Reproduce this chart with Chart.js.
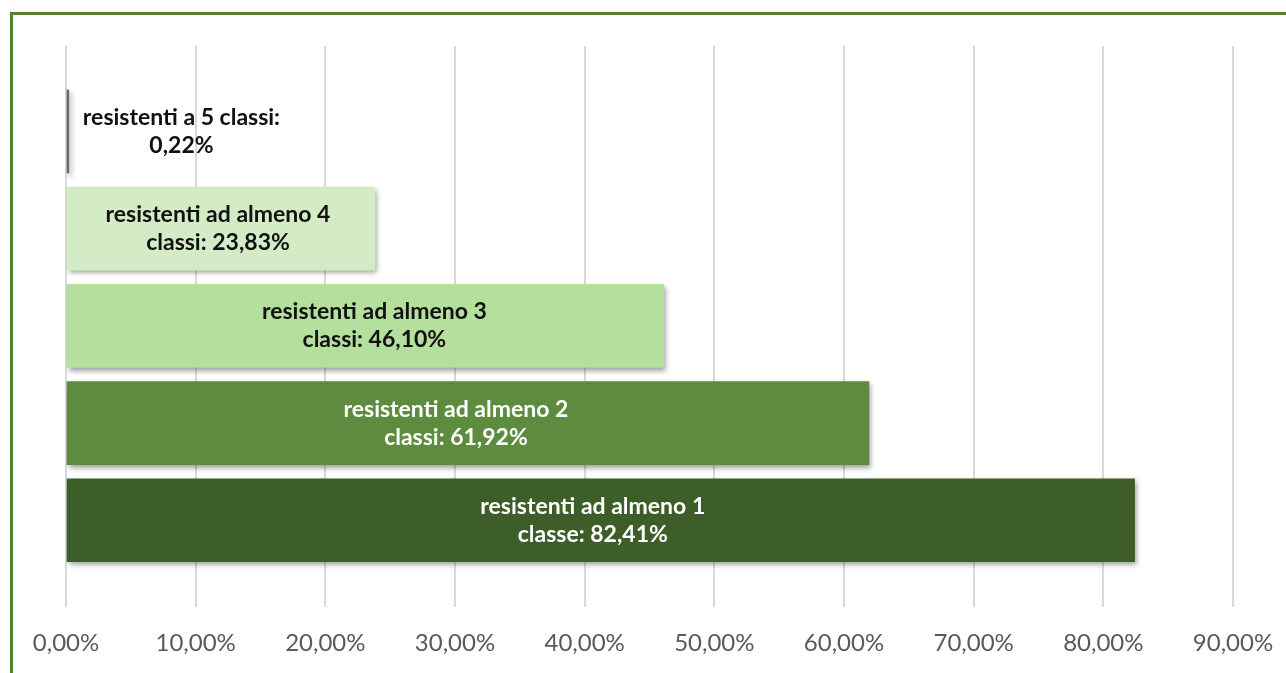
<!DOCTYPE html>
<html>
<head>
<meta charset="utf-8">
<script src="https://cdn.jsdelivr.net/npm/chart.js@4.4.1/dist/chart.umd.min.js"></script>
<style>
  html, body { margin: 0; padding: 0; background: #ffffff; overflow: hidden; }
  #frame { position: absolute; left: 10px; top: 12px; width: 1400px; height: 800px;
           border: 3px solid #548235; box-sizing: border-box; }
  #wrap { position: absolute; left: 0; top: 0; width: 1286px; height: 673px; }
</style>
</head>
<body>
<div id="frame"></div>
<div id="wrap"><canvas id="chart"></canvas></div>
<script>
// Share of isolates resistant to N antibiotic classes (top to bottom)
const categories = [
  'resistenti a 5 classi',
  'resistenti ad almeno 4 classi',
  'resistenti ad almeno 3 classi',
  'resistenti ad almeno 2 classi',
  'resistenti ad almeno 1 classe'
];
const shares = [0.22, 23.83, 46.10, 61.92, 82.41];
const barColors = ['#6a6a6a', '#d3ecc5', '#b4df9c', '#5d8c3e', '#3d5e29'];
const labelColors = ['#111111', '#111111', '#111111', '#ffffff', '#ffffff'];
const axisMin = 0;
const axisMax = 90;
const axisStep = 10;

const fmtPct = v => v.toFixed(2).replace('.', ',') + '%';

// Bars sit at row positions 1..n on a linear index axis
const rows = categories.map((c, i) => ({ x: shares[i], y: i + 1 }));

const LABEL_FONT = 'bold 23px Lato';
const LINE_GAP = 28;

function wrapText(ctx, text, maxWidth) {
  const words = text.split(' ');
  const lines = [];
  let cur = '';
  for (const w of words) {
    const test = cur ? cur + ' ' + w : w;
    if (cur && ctx.measureText(test).width > maxWidth) {
      lines.push(cur);
      cur = w;
    } else {
      cur = test;
    }
  }
  if (cur) lines.push(cur);
  return lines;
}

// Soft drop shadow under the bars
const barShadow = {
  id: 'barShadow',
  beforeDatasetsDraw(chart) {
    const ctx = chart.ctx;
    ctx.save();
    ctx.shadowColor = 'rgba(0,0,0,0.38)';
    ctx.shadowBlur = 5;
    ctx.shadowOffsetX = 2;
    ctx.shadowOffsetY = 3;
  },
  afterDatasetsDraw(chart) {
    chart.ctx.restore();
  }
};

// Two-line value labels: inside wide bars, to the right of tiny ones
const barLabels = {
  id: 'barLabels',
  afterDatasetsDraw(chart, args, opts) {
    const ctx = chart.ctx;
    const meta = chart.getDatasetMeta(0);
    const nudge = opts.nudgeX || [];
    ctx.save();
    ctx.font = LABEL_FONT;
    ctx.textAlign = 'center';
    ctx.textBaseline = 'middle';
    meta.data.forEach((bar, i) => {
      const text = categories[i] + ': ' + fmtPct(shares[i]);
      const lines = wrapText(ctx, text, 240);
      const blockW = Math.max(...lines.map(l => ctx.measureText(l).width));
      const barW = bar.x - bar.base;
      let cx;
      if (barW >= blockW + 20) {
        cx = (bar.x + bar.base) / 2 + (nudge[i] || 0);
      } else {
        cx = bar.x + 14 + blockW / 2;
      }
      ctx.fillStyle = labelColors[i];
      const y0 = bar.y - (lines.length - 1) * LINE_GAP / 2;
      lines.forEach((l, k) => ctx.fillText(l, cx, y0 + k * LINE_GAP));
    });
    ctx.restore();
  }
};

new Chart(document.getElementById('chart'), {
  type: 'bar',
  data: {
    datasets: [{
      data: rows,
      backgroundColor: barColors,
      borderWidth: 0,
      barThickness: 83
    }]
  },
  options: {
    indexAxis: 'y',
    responsive: true,
    maintainAspectRatio: false,
    animation: false,
    layout: { padding: { left: 66, right: 53, top: 46, bottom: 10 } },
    plugins: {
      legend: { display: false },
      tooltip: { enabled: false },
      barLabels: { nudgeX: [0, -3, 9, -12, -8] }
    },
    scales: {
      x: {
        type: 'linear',
        position: 'bottom',
        min: axisMin,
        max: axisMax,
        border: { display: false },
        grid: { color: '#d9d9d9', lineWidth: 2, drawTicks: false },
        ticks: {
          stepSize: axisStep,
          padding: 0,
          color: '#595959',
          font: { family: 'Lato', size: 24, lineHeight: 3 },
          callback: v => fmtPct(v)
        },
        afterFit(scale) { scale.height = 56; }
      },
      y: {
        type: 'linear',
        display: false,
        reverse: true,
        offset: false,
        grid: { offset: false },
        min: 0.121,
        max: 5.892
      }
    }
  },
  plugins: [barShadow, barLabels]
});
</script>
</body>
</html>
